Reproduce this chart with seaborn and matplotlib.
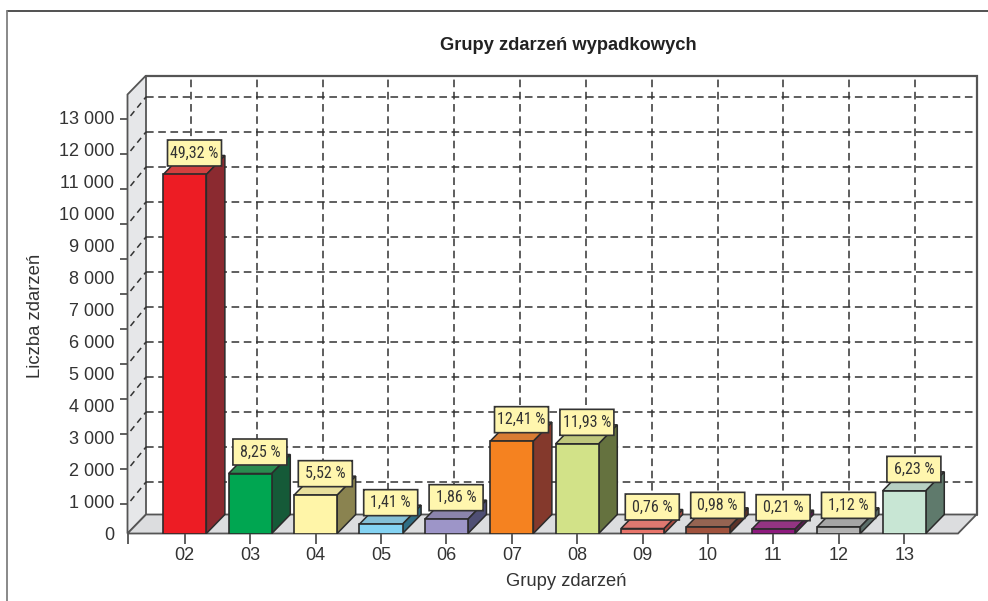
import numpy as np
import pandas as pd
import matplotlib
matplotlib.use('Agg')
import matplotlib.pyplot as plt
import seaborn as sns
from matplotlib import font_manager
from matplotlib.lines import Line2D
from matplotlib.patches import Polygon, FancyBboxPatch

# values
groups = ['02', '03', '04', '05', '06', '07', '08', '09', '10', '11', '12', '13']
counts = [11219, 1875, 1198, 292, 448, 2885, 2802, 156, 208, 135, 208, 1333]
shares = ['49,32 %', '8,25 %', '5,52 %', '1,41 %', '1,86 %', '12,41 %', '11,93 %',
          '0,76 %', '0,98 %', '0,21 %', '1,12 %', '6,23 %']
front_cols = ['#ED1C24', '#00A651', '#FFF5A8', '#84D3F3', '#9D95C8', '#F58220',
              '#D2E288', '#E8756B', '#A0523D', '#8E1A7E', '#B3B3B3', '#C8E6D4']
top_cols = ['#D2403F', '#2A8C50', '#E8DF9C', '#84BFD6', '#8B84AC', '#D87C33',
            '#BFC77C', '#DE7870', '#956452', '#933482', '#A5A5A5', '#B7D0C2']
side_cols = ['#8B2A30', '#155A38', '#8A8350', '#2F6E85', '#4F4F74', '#84392C',
             '#65723F', '#A84A40', '#5E3328', '#5B1A52', '#5C6E6A', '#5F7A6C']
y_labels = ['0', '1 000', '2 000', '3 000', '4 000', '5 000', '6 000', '7 000',
            '8 000', '9 000', '10 000', '11 000', '12 000', '13 000']

sns.set_style('white')
plt.rcParams['font.family'] = ['Liberation Sans', 'DejaVu Sans']
installed = {f.name for f in font_manager.fontManager.ttflist}
narrow, narrow_size = 'Liberation Sans', 9.5
for name in ['Liberation Sans Narrow', 'Roboto Condensed', 'Open Sans Condensed']:
    if name in installed:
        narrow, narrow_size = name, 11.5
        break

W, H = 988, 601
fig = plt.figure(figsize=(W / 100, H / 100), dpi=100)
left, right, top, bottom = 127.5, 958, 94.5, 533.5
ax = fig.add_axes([left / W, 1 - bottom / H, (right - left) / W, (bottom - top) / H])

df = pd.DataFrame({'group': groups, 'count': counts})
sns.barplot(data=df, x='group', y='count', hue='group', palette=front_cols, legend=False,
            width=0.66, saturation=1, edgecolor='#2b2b2b', linewidth=1.2, ax=ax, zorder=4)

step_px = 65.4
unit_px = 32 / 1000
ax.set_xlim((left - 184.8) / step_px, (right - 184.8) / step_px)
ax.set_ylim(0, (bottom - top) / unit_px)
dx = 18.5 / step_px
dy = 19 / unit_px
ymax = ax.get_ylim()[1]
x0, x1 = ax.get_xlim()

wall_col = '#555555'
# side wall and floor
ax.add_patch(Polygon([(x0, 0), (x0 + dx, dy), (x0 + dx, ymax + dy), (x0, ymax)], closed=True,
                     fc='#E6E7E9', ec=wall_col, lw=1.3, clip_on=False, zorder=1))
ax.add_patch(Polygon([(x0, 0), (x0 + dx, dy), (x1 + dx, dy), (x1, 0)], closed=True,
                     fc='#DCDDDF', ec=wall_col, lw=1.3, clip_on=False, zorder=1))
ax.plot([x0 + dx, x1 + dx, x1 + dx], [ymax + dy, ymax + dy, dy], color=wall_col, lw=1.6,
        clip_on=False, zorder=1, solid_joinstyle='miter')

# marks on the value axis do not line up with the labels in the original
mark_vals = 922 + 1094 * np.arange(12)
dash = (0, (5, 3))
for v in mark_vals:
    back = v + 22 / unit_px
    ax.plot([x0 + dx, x1 + dx], [back, back], color='#333333', lw=1.1, ls=dash, clip_on=False, zorder=2)
    ax.plot([x0 + 3 / step_px, x0 + dx], [v + 3 / unit_px, back], color='#333333', lw=1.1, ls=(0, (4, 3)),
            clip_on=False, zorder=2)
for i in range(len(groups)):
    gx = i + (6 + 5 * i / 11) / step_px
    ax.plot([gx, gx], [dy, ymax + dy], color='#333333', lw=1.1, ls=dash, clip_on=False, zorder=2)

# 3d faces and labels built from the bars seaborn drew
for bar, t_col, s_col, share in zip(ax.patches, top_cols, side_cols, shares):
    bx, bw, bh = bar.get_x(), bar.get_width(), bar.get_height()
    ax.add_patch(Polygon([(bx, bh), (bx + dx, bh + dy), (bx + bw + dx, bh + dy), (bx + bw, bh)], closed=True,
                         fc=t_col, ec='#2b2b2b', lw=1.1, clip_on=False, zorder=3))
    ax.add_patch(Polygon([(bx + bw, 0), (bx + bw + dx, dy), (bx + bw + dx, bh + dy), (bx + bw, bh)], closed=True,
                         fc=s_col, ec='#2b2b2b', lw=1.1, clip_on=False, zorder=3))
    cx = bx + bw / 2 + 9.7 / step_px
    cy = bh + 21.5 / unit_px
    w, h = 54 / step_px, 26 / unit_px
    ax.add_patch(FancyBboxPatch((cx - w / 2, cy - h / 2), w, h,
                                boxstyle='round,pad=0,rounding_size=0.03',
                                mutation_aspect=(1 / unit_px) / step_px,
                                fc='#FFF6AE', ec='#333333', lw=1.2, clip_on=False, zorder=6))
    ax.text(cx, cy, share, ha='center', va='center', fontsize=narrow_size, family=narrow,
            color='#333333', zorder=7)

sns.despine(ax=ax, left=True, bottom=True, top=True, right=True)

ax.set_yticks(np.arange(len(y_labels)) * 1000, y_labels)
ax.set_yticks(np.r_[0, mark_vals], minor=True)
ax.tick_params(axis='y', which='major', length=0, pad=9.5, labelsize=13, labelcolor='#333333')
ax.tick_params(axis='y', which='minor', length=6, width=1.1, color='#333333', left=True)
ax.set_xticks(range(len(groups)), groups)
ax.set_xticks([x0], minor=True)
ax.tick_params(axis='x', which='both', length=7, width=1.1, color='#333333', bottom=True)
ax.tick_params(axis='x', which='major', pad=3, labelsize=13, labelcolor='#333333')

ax.set_xlabel('')
ax.set_ylabel('')
fig.text(566.5 / W, 1 - 581 / H, 'Grupy zdarzeń', ha='center', va='center', fontsize=13.2, color='#333333')
fig.text(35.5 / W, 1 - 316 / H, 'Liczba zdarzeń', ha='center', va='center', rotation=90, fontsize=13.3, color='#333333')
fig.text(568 / W, 1 - 46 / H, 'Grupy zdarzeń wypadkowych', ha='center', va='center',
         fontsize=13.2, fontweight='bold', color='#222222')

# outer frame
fig.add_artist(Line2D([6.5 / W, 1], [1 - 10.5 / H, 1 - 10.5 / H], color='#222222', lw=1.1))
fig.add_artist(Line2D([6.5 / W, 6.5 / W], [1 - 10.5 / H, 0], color='#808080', lw=1.3))

fig.savefig('out.png', dpi=100)
